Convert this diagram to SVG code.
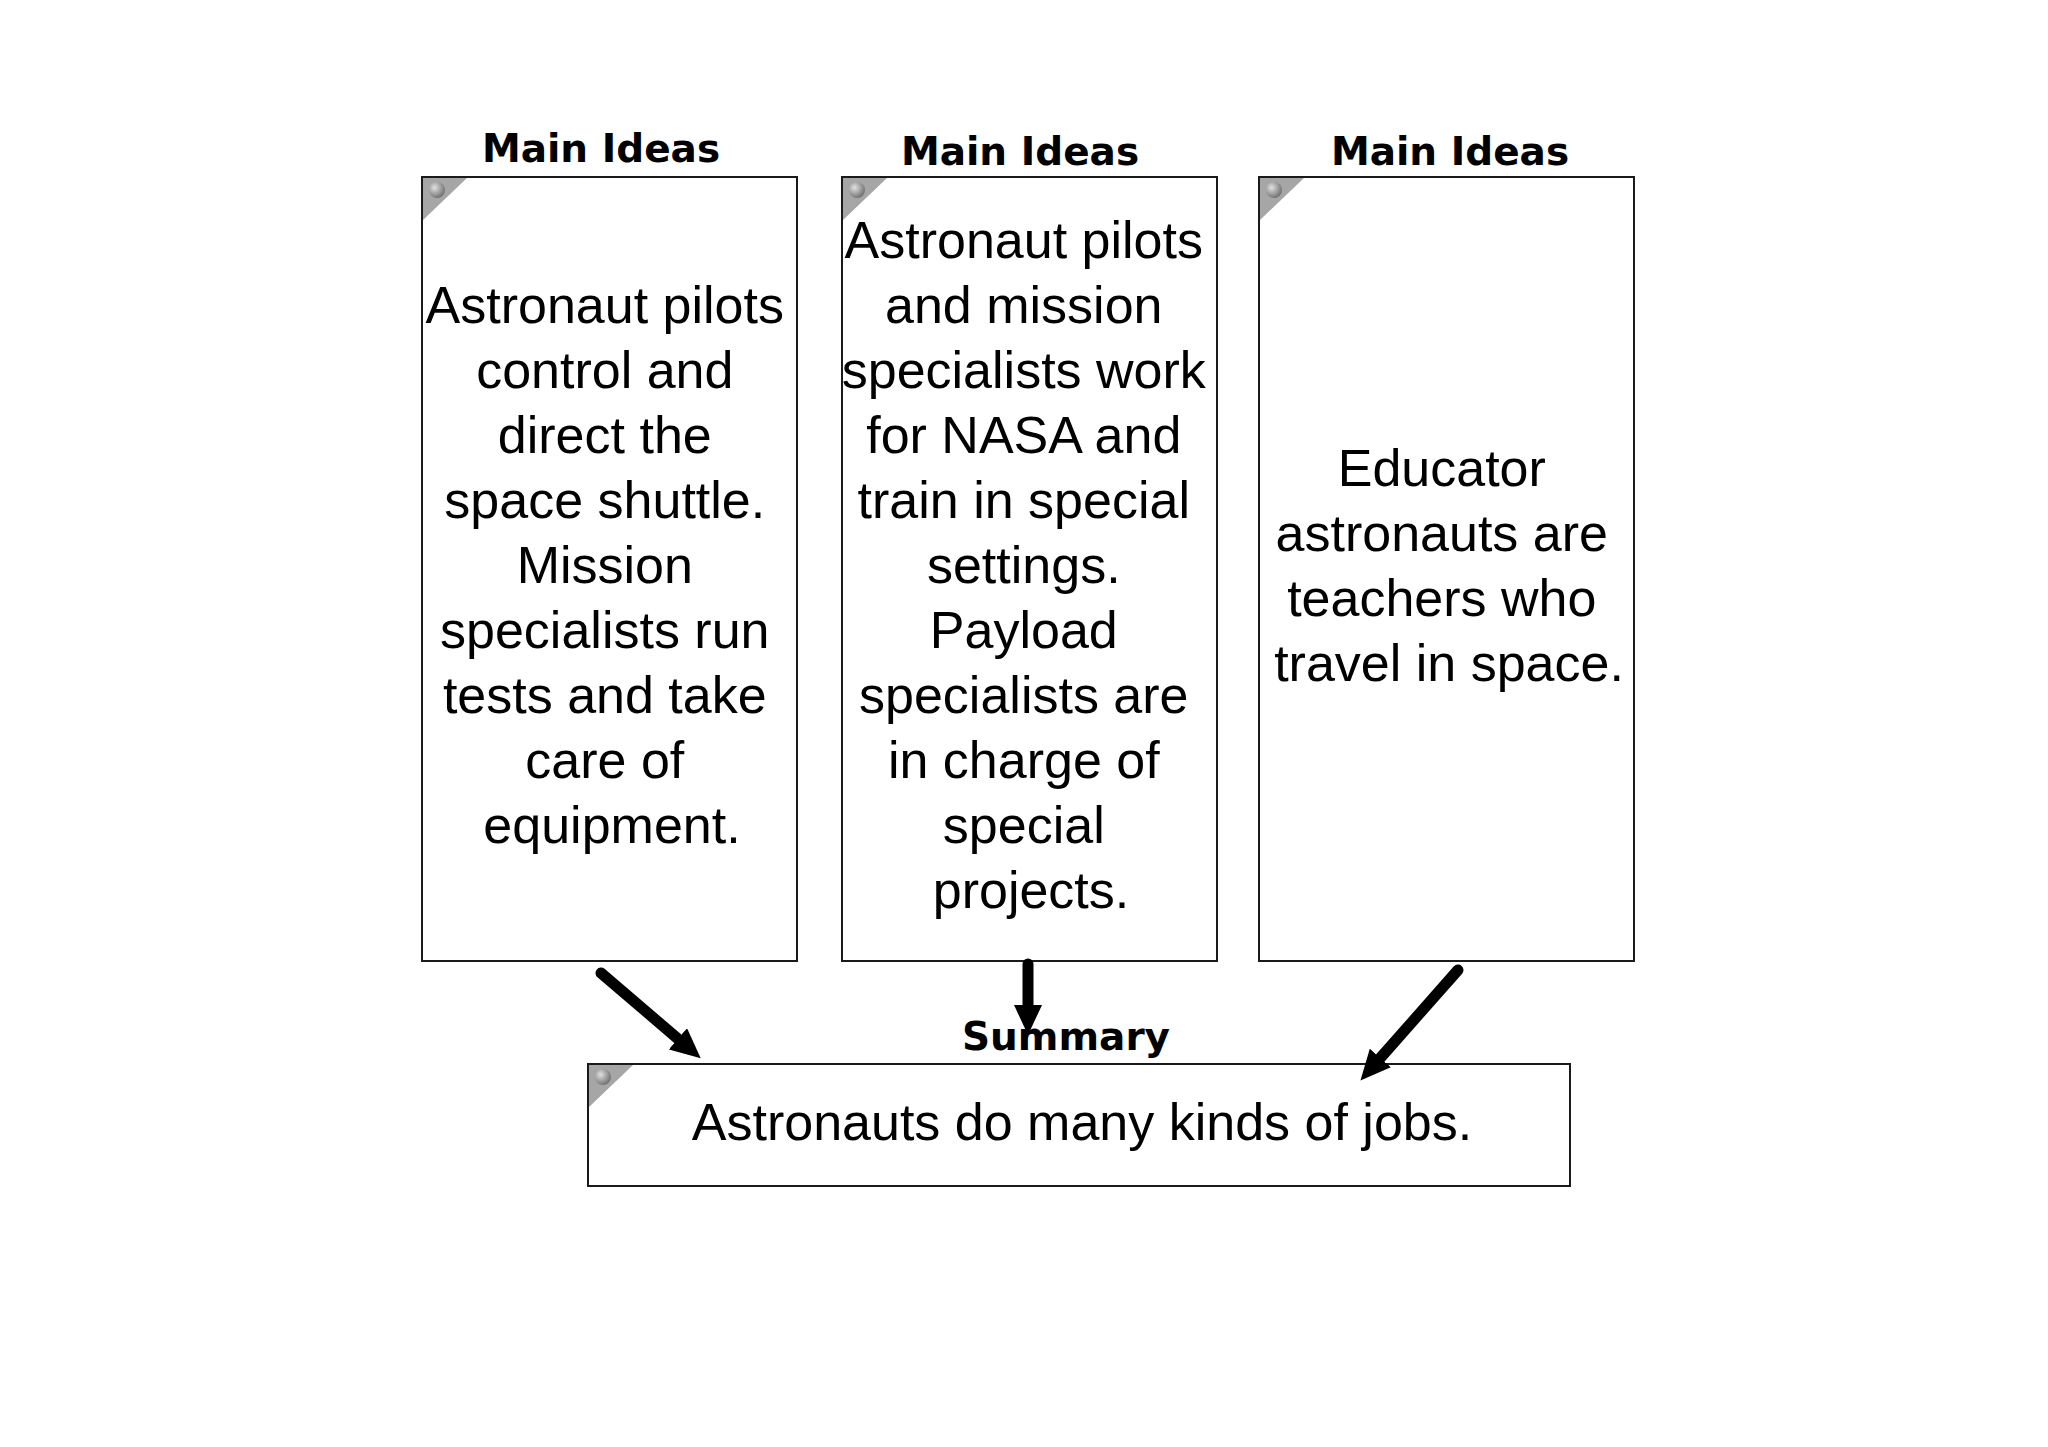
<svg xmlns="http://www.w3.org/2000/svg" width="2048" height="1447" viewBox="0 0 2048 1447">
<style>
.box{fill:#fff;stroke:#1a1a1a;stroke-width:2}
.hdr{font-family:"DejaVu Sans",sans-serif;font-weight:bold;font-size:39px;fill:#000;text-anchor:middle}
.body{font-family:"Liberation Sans",Arial,sans-serif;font-size:52px;fill:#000;text-anchor:middle}
.tri{fill:#a6a6a6}
.pin{fill:url(#pinGrad)}
.arrow{stroke:#000;stroke-width:11;stroke-linecap:round;fill:none;marker-end:url(#head)}
</style>
<defs>
<radialGradient id="pinGrad" cx="0.35" cy="0.35" r="0.7">
<stop offset="0" stop-color="#e0e0e0"/>
<stop offset="1" stop-color="#6e6e6e"/>
</radialGradient>
<marker id="head" markerUnits="userSpaceOnUse" viewBox="0 0 30 28" refX="8" refY="14" markerWidth="30" markerHeight="28" orient="auto">
<path d="M0,0 L30,14 L0,28 Z" fill="#000"/>
</marker>
</defs>
<rect width="2048" height="1447" fill="#fff"/>

<g id="header1"><text class="hdr" x="601" y="162">Main Ideas</text></g>
<g id="header2"><text class="hdr" x="1020" y="165">Main Ideas</text></g>
<g id="header3"><text class="hdr" x="1450" y="165">Main Ideas</text></g>

<g id="box1">
<rect class="box" x="422" y="177" width="375" height="784"/>
<path class="tri" d="M423,178 L467,178 L423,220 Z"/>
<circle class="pin" cx="437" cy="190" r="8"/>
<text class="body">
<tspan x="612" y="323">Astronaut pilots</tspan>
<tspan x="612" y="388">control and</tspan>
<tspan x="612" y="453">direct the</tspan>
<tspan x="612" y="518">space shuttle.</tspan>
<tspan x="612" y="583">Mission</tspan>
<tspan x="612" y="648">specialists run</tspan>
<tspan x="612" y="713">tests and take</tspan>
<tspan x="612" y="778">care of</tspan>
<tspan x="612" y="843">equipment.</tspan>
</text>
</g>

<g id="box2">
<rect class="box" x="842" y="177" width="375" height="784"/>
<path class="tri" d="M843,178 L887,178 L843,220 Z"/>
<circle class="pin" cx="857" cy="190" r="8"/>
<text class="body">
<tspan x="1031" y="258">Astronaut pilots</tspan>
<tspan x="1031" y="323">and mission</tspan>
<tspan x="1031" y="388">specialists work</tspan>
<tspan x="1031" y="453">for NASA and</tspan>
<tspan x="1031" y="518">train in special</tspan>
<tspan x="1031" y="583">settings.</tspan>
<tspan x="1031" y="648">Payload</tspan>
<tspan x="1031" y="713">specialists are</tspan>
<tspan x="1031" y="778">in charge of</tspan>
<tspan x="1031" y="843">special</tspan>
<tspan x="1031" y="908">projects.</tspan>
</text>
</g>

<g id="box3">
<rect class="box" x="1259" y="177" width="375" height="784"/>
<path class="tri" d="M1260,178 L1304,178 L1260,220 Z"/>
<circle class="pin" cx="1274" cy="190" r="8"/>
<text class="body">
<tspan x="1449" y="486">Educator</tspan>
<tspan x="1449" y="551">astronauts are</tspan>
<tspan x="1449" y="616">teachers who</tspan>
<tspan x="1449" y="681">travel in space.</tspan>
</text>
</g>

<g id="summary-title"><text class="hdr" x="1066" y="1050">Summary</text></g>

<g id="summary">
<rect class="box" x="588" y="1064" width="982" height="122"/>
<path class="tri" d="M589,1065 L633,1065 L589,1107 Z"/>
<circle class="pin" cx="603" cy="1077" r="8"/>
<text class="body" x="1082" y="1140">Astronauts do many kinds of jobs.</text>
</g>

<g id="connectors">
<line class="arrow" x1="601" y1="973" x2="684" y2="1044"/>
<line class="arrow" x1="1028" y1="964" x2="1028" y2="1013"/>
<line class="arrow" x1="1458" y1="970" x2="1375" y2="1064"/>
</g>
</svg>
